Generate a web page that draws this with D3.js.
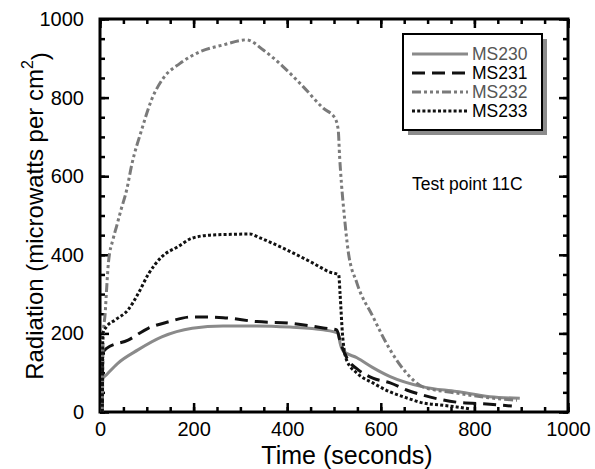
<!DOCTYPE html>
<meta charset="utf-8">
<style>
body { margin: 0; background: #fff; }
text { font-family: "Liberation Sans", Arial, sans-serif; fill: #000; }
.axis path { display: none; }
.axis line { stroke: #000; stroke-width: 2.5; }
.axis text { font-size: 20px; }
</style>
<svg width="595" height="469"></svg>
<script src="https://d3js.org/d3.v7.min.js"></script>
<script>

// values
var t230 = [5, 6, 14, 38, 81, 132, 197, 263, 335, 406, 477, 509, 513, 520, 549, 583, 620, 690, 762, 833, 897];
var v230 = [0, 85, 95, 124, 158, 191, 213, 219, 219, 216, 209, 200, 175, 155, 138, 113, 90, 64, 52, 39, 35];

var t231 = [5, 6, 14, 60, 103, 145, 197, 263, 335, 406, 477, 506, 513, 530, 548, 583, 620, 655, 690, 762, 833, 880];
var v231 = [0, 150, 162, 183, 213, 229, 242, 240, 230, 226, 214, 209, 180, 132, 111, 86, 74, 56, 43, 25, 20, 15];

var t232 = [5, 7, 11, 14, 18, 28, 36, 45, 57, 68, 89, 110, 135, 171, 214, 263, 313, 349, 391, 434, 477, 502, 509, 512, 516, 522, 530, 549, 583, 620, 655, 690, 762, 833, 891];
var v232 = [0, 200, 250, 310, 380, 440, 475, 515, 565, 630, 718, 794, 849, 887, 917, 934, 947, 921, 879, 828, 773, 748, 718, 650, 580, 500, 412, 328, 243, 158, 99, 64, 48, 36, 30];

var t233 = [5, 6, 14, 32, 60, 81, 103, 132, 167, 196, 235, 280, 320, 342, 391, 455, 491, 510, 513, 518, 527, 549, 583, 620, 655, 690, 726, 762, 790];
var v233 = [0, 200, 217, 234, 260, 300, 350, 395, 421, 442, 450, 452, 453, 443, 417, 379, 356, 349, 300, 200, 132, 99, 74, 51, 36, 23, 18, 13, 8];

var seriesNames = ["MS230", "MS231", "MS232", "MS233"];
var xTicks = [0, 200, 400, 600, 800, 1000];
var yTicks = [0, 200, 400, 600, 800, 1000];

var series = [
  {name: seriesNames[0], t: t230, v: v230, color: "#8a8a8a", dash: null, text: "#555"},
  {name: seriesNames[1], t: t231, v: v231, color: "#111", dash: "13,7", text: "#000"},
  {name: seriesNames[2], t: t232, v: v232, color: "#7a7a7a", dash: "9,3,3,3,3,3,3,3", text: "#555"},
  {name: seriesNames[3], t: t233, v: v233, color: "#111", dash: "3,2.2", text: "#000"}
];

var svg = d3.select("svg");
var x = d3.scaleLinear().domain([0, 1000]).range([100, 568]);
var y = d3.scaleLinear().domain([0, 1000]).range([412, 19]);

var minor = d3.range(0, 1001, 50);

// minor ticks on all sides
svg.append("g").attr("class", "axis").attr("transform", "translate(0,412)")
    .call(d3.axisBottom(x).tickValues(minor).tickSize(-5).tickFormat(""));
svg.append("g").attr("class", "axis").attr("transform", "translate(0,19)")
    .call(d3.axisTop(x).tickValues(minor).tickSize(-5).tickFormat(""));
svg.append("g").attr("class", "axis").attr("transform", "translate(100,0)")
    .call(d3.axisLeft(y).tickValues(minor).tickSize(-5).tickFormat(""));
svg.append("g").attr("class", "axis").attr("transform", "translate(568,0)")
    .call(d3.axisRight(y).tickValues(minor).tickSize(-5).tickFormat(""));

// major ticks
svg.append("g").attr("class", "axis").attr("transform", "translate(0,412)")
    .call(d3.axisBottom(x).tickValues(xTicks).tickSize(-9).tickPadding(10).tickFormat(d3.format("d")));
svg.append("g").attr("class", "axis").attr("transform", "translate(0,19)")
    .call(d3.axisTop(x).tickValues(xTicks).tickSize(-9).tickFormat(""));
svg.append("g").attr("class", "axis").attr("transform", "translate(100,0)")
    .call(d3.axisLeft(y).tickValues(yTicks).tickSize(-9).tickPadding(16).tickFormat(d3.format("d")));
svg.append("g").attr("class", "axis").attr("transform", "translate(568,0)")
    .call(d3.axisRight(y).tickValues(yTicks).tickSize(-9).tickFormat(""));

// frame
svg.append("rect")
    .attr("x", 100).attr("y", 19).attr("width", 468).attr("height", 393)
    .attr("fill", "none").attr("stroke", "#000").attr("stroke-width", 3);

var line = d3.line()
    .curve(d3.curveMonotoneX)
    .x(d => x(d[0]))
    .y(d => y(d[1]));

svg.append("g").selectAll("path")
  .data(series)
  .enter().append("path")
    .attr("d", s => line(s.t.map((t, i) => [t, s.v[i]])))
    .attr("fill", "none")
    .attr("stroke", s => s.color)
    .attr("stroke-width", 3)
    .attr("stroke-linejoin", "round")
    .attr("stroke-dasharray", s => s.dash);

// legend
var lg = svg.append("g");
lg.append("rect").attr("x", 408).attr("y", 39).attr("width", 139).attr("height", 96).attr("fill", "#8c8c8c");
lg.append("rect").attr("x", 403).attr("y", 34).attr("width", 139).attr("height", 96)
    .attr("fill", "#fff").attr("stroke", "#000").attr("stroke-width", 2);

var item = lg.selectAll("g.item")
  .data(series)
  .enter().append("g")
    .attr("class", "item")
    .attr("transform", (s, i) => "translate(0," + (54 + i * 19) + ")");
item.append("line")
    .attr("x1", 412).attr("x2", 468)
    .attr("stroke", s => s.color).attr("stroke-width", 3)
    .attr("stroke-dasharray", s => s.dash);
item.append("text")
    .attr("x", 472).attr("dy", "0.36em")
    .style("font-size", "17.5px")
    .style("fill", s => s.text)
    .text(s => s.name);

svg.append("text")
    .attr("x", 412).attr("y", 190)
    .style("font-size", "17.5px")
    .text("Test point 11C");

// axis titles
svg.append("text")
    .attr("x", 347).attr("y", 464)
    .attr("text-anchor", "middle")
    .style("font-size", "25px")
    .text("Time (seconds)");

var yl = svg.append("text")
    .attr("transform", "translate(43,216) rotate(-90)")
    .attr("text-anchor", "middle")
    .style("font-size", "24px");
yl.append("tspan").text("Radiation (microwatts per cm");
yl.append("tspan").attr("dy", "-0.6em").style("font-size", "16px").text("2");
yl.append("tspan").attr("dy", "0.6em").text(")");

</script>
